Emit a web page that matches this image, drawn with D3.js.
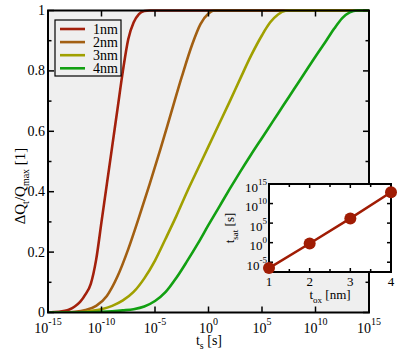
<!DOCTYPE html>
<html><head><meta charset="utf-8">
<script src="https://cdn.jsdelivr.net/npm/d3@7"></script>
<style>body{margin:0;background:#fff}svg{display:block}</style>
</head><body><svg id="c" width="400" height="355"></svg>
<script>
// ---- data ----
const seriesNames = ["1nm", "2nm", "3nm", "4nm"];
const seriesColors = ["#a3200c", "#a25f12", "#a0a000", "#12a012"];
// log10(t_s) and ΔQt/Qmax
const logT1 = [-15, -14, -13, -12.5, -12, -11.5, -11, -10.5, -10, -9.5, -9, -8.5, -8, -7.5, -7, -6.5, -6, -5.5, 15];
const q1    = [0, 0.002, 0.01, 0.02, 0.035, 0.06, 0.095, 0.175, 0.30, 0.425, 0.55, 0.675, 0.80, 0.905, 0.96, 0.988, 0.998, 1, 1];
const logT2 = [-15, -13.5, -12.5, -11.5, -10.5, -9.5, -8.5, -7.5, -6.5, -5.5, -4.5, -3.5, -2.5, -1.5, -0.75, 0, 0.5, 15];
const q2    = [0, 0, 0.002, 0.008, 0.022, 0.055, 0.12, 0.21, 0.315, 0.425, 0.54, 0.66, 0.78, 0.89, 0.955, 0.99, 1, 1];
const logT3 = [-15, -12, -11, -10, -9, -8, -7, -6, -5, -4, -3, -2, -1, 0, 1, 2, 3, 4, 5, 5.75, 6.5, 7.2, 7.6, 15];
const q3    = [0, 0.001, 0.005, 0.011, 0.022, 0.04, 0.068, 0.113, 0.172, 0.245, 0.32, 0.40, 0.475, 0.55, 0.625, 0.70, 0.777, 0.852, 0.918, 0.96, 0.987, 0.999, 1, 1];
const logT4 = [-15, -11, -10, -9, -8, -7, -6, -5, -4, -3, -2, -1, 0, 1, 2, 3, 4, 5, 6, 7, 8, 9, 10, 11, 11.75, 12.5, 13.2, 13.9, 15];
const q4    = [0, 0.001, 0.002, 0.004, 0.007, 0.011, 0.02, 0.038, 0.068, 0.115, 0.17, 0.228, 0.29, 0.35, 0.41, 0.468, 0.524, 0.578, 0.632, 0.686, 0.74, 0.794, 0.848, 0.90, 0.94, 0.975, 0.994, 1, 1];
const xTickExps = [-15, -10, -5, 0, 5, 10, 15];
const yTicks = [0, 0.2, 0.4, 0.6, 0.8, 1];
const yTickLabels = ["0", "0.2", "0.4", "0.6", "0.8", "1"];
const yMinorTicks = [0.1, 0.3, 0.5, 0.7, 0.9];
// inset
const tox = [1, 2, 3, 4];
const tsatExp = [-6.5, -0.2, 6.2, 12.9];
const insetXTicks = [1, 2, 3, 4];
const insetXMinor = [1.5, 2.5, 3.5];
const insetYTickExps = [-5, 0, 5, 10, 15];

const FONT = "Liberation Serif";
const svg = d3.select("#c");
const M = {l: 48, r: 369, t: 10.5, b: 312.5};
const x = d3.scaleLog().domain([1e-15, 1e15]).range([M.l, M.r]);
const y = d3.scaleLinear().domain([0, 1]).range([M.b, M.t]);
function txt(sel) { return sel.append("text").attr("font-family", FONT).attr("fill", "#000"); }

svg.append("rect").attr("x", M.l).attr("y", M.t).attr("width", M.r - M.l).attr("height", M.b - M.t).attr("fill", "#efefef");

const series = [[logT1, q1], [logT2, q2], [logT3, q3], [logT4, q4]];
const line = d3.line().x(d => x(Math.pow(10, d[0]))).y(d => y(d[1])).curve(d3.curveMonotoneX);
svg.append("clipPath").attr("id", "pc").append("rect").attr("x", M.l).attr("y", M.t - 2).attr("width", M.r - M.l).attr("height", M.b - M.t + 2);
series.forEach((s, i) => {
  const pts = s[0].map((v, j) => [v, s[1][j]]);
  svg.append("path").attr("d", line(pts)).attr("fill", "none").attr("stroke", seriesColors[i]).attr("stroke-width", 2.6).attr("stroke-linejoin", "round").attr("clip-path", "url(#pc)");
});

// ticks
const tk = svg.append("g").attr("stroke", "#000");
xTickExps.forEach(e => {
  const px = x(Math.pow(10, e));
  tk.append("line").attr("x1", px).attr("x2", px).attr("y1", M.b).attr("y2", M.b - 6).attr("stroke-width", 1.5);
  tk.append("line").attr("x1", px).attr("x2", px).attr("y1", M.t).attr("y2", M.t + 6).attr("stroke-width", 1.5);
  const t = txt(svg).attr("x", px).attr("y", 333).attr("text-anchor", "middle").attr("font-size", 14).text("10");
  t.append("tspan").attr("dy", -8).attr("font-size", 10).text(String(e));
});
yTicks.forEach((v, i) => {
  const py = y(v);
  tk.append("line").attr("x1", M.l).attr("x2", M.l + 6).attr("y1", py).attr("y2", py).attr("stroke-width", 1.5);
  tk.append("line").attr("x1", M.r).attr("x2", M.r - 6).attr("y1", py).attr("y2", py).attr("stroke-width", 1.5);
  txt(svg).attr("x", 45).attr("y", py + 4.5).attr("text-anchor", "end").attr("font-size", 14).text(yTickLabels[i]);
});
yMinorTicks.forEach(v => {
  const py = y(v);
  tk.append("line").attr("x1", M.l).attr("x2", M.l + 3.5).attr("y1", py).attr("y2", py).attr("stroke-width", 1.5);
  tk.append("line").attr("x1", M.r).attr("x2", M.r - 3.5).attr("y1", py).attr("y2", py).attr("stroke-width", 1.5);
});
svg.append("rect").attr("x", M.l).attr("y", M.t).attr("width", M.r - M.l).attr("height", M.b - M.t).attr("fill", "none").attr("stroke", "#000").attr("stroke-width", 2);

// axis titles
const xt = txt(svg).attr("x", 209).attr("y", 345).attr("text-anchor", "middle").attr("font-size", 14).text("t");
xt.append("tspan").attr("dy", 4).attr("font-size", 10).text("s");
xt.append("tspan").attr("dy", -4).text(" [s]");
const yt = txt(svg).attr("transform", "translate(25,186) rotate(-90)").attr("text-anchor", "middle").attr("font-size", 15).text("ΔQ");
yt.append("tspan").attr("dy", 4).attr("font-size", 10).text("t");
yt.append("tspan").attr("dy", -4).text("/Q");
yt.append("tspan").attr("dy", 4).attr("font-size", 10).text("max");
yt.append("tspan").attr("dy", -4).text("  [1]");

// legend
svg.append("rect").attr("x", 55).attr("y", 20).attr("width", 66).attr("height", 56).attr("fill", "#efefef").attr("stroke", "#000").attr("stroke-width", 1.2);
seriesNames.forEach((n, i) => {
  const ly = 29 + i * 13.1;
  svg.append("line").attr("x1", 60).attr("x2", 85).attr("y1", ly).attr("y2", ly).attr("stroke", seriesColors[i]).attr("stroke-width", 2.6);
  txt(svg).attr("x", 93).attr("y", ly + 4.5).attr("font-size", 14).text(n);
});

// inset
const I = {l: 269, r: 391, t: 184, b: 272};
const ix = d3.scaleLinear().domain([1, 4]).range([I.l, I.r]);
const iy = d3.scaleLog().domain([Math.pow(10, -7.5), 1e15]).range([I.b, I.t]);
svg.append("rect").attr("x", I.l).attr("y", I.t).attr("width", I.r - I.l).attr("height", I.b - I.t).attr("fill", "#fff");
const it = svg.append("g").attr("stroke", "#000");
insetXTicks.forEach(v => {
  const px = ix(v);
  it.append("line").attr("x1", px).attr("x2", px).attr("y1", I.b).attr("y2", I.b - 4).attr("stroke-width", 1.5);
  it.append("line").attr("x1", px).attr("x2", px).attr("y1", I.t).attr("y2", I.t + 4).attr("stroke-width", 1.5);
  txt(svg).attr("x", px).attr("y", 286).attr("text-anchor", "middle").attr("font-size", 13).text(String(v));
});
insetXMinor.forEach(v => {
  const px = ix(v);
  it.append("line").attr("x1", px).attr("x2", px).attr("y1", I.b).attr("y2", I.b - 3).attr("stroke-width", 1.5);
  it.append("line").attr("x1", px).attr("x2", px).attr("y1", I.t).attr("y2", I.t + 3).attr("stroke-width", 1.5);
});
insetYTickExps.forEach(e => {
  const py = iy(Math.pow(10, e));
  it.append("line").attr("x1", I.l).attr("x2", I.l + 4).attr("y1", py).attr("y2", py).attr("stroke-width", 1.5);
  it.append("line").attr("x1", I.r).attr("x2", I.r - 4).attr("y1", py).attr("y2", py).attr("stroke-width", 1.5);
  const t = txt(svg).attr("x", 267).attr("y", py + 7.5).attr("text-anchor", "end").attr("font-size", 13).text("10");
  t.append("tspan").attr("dy", -7).attr("font-size", 9).text(String(e));
});
const ipts = tox.map((v, i) => [v, Math.pow(10, tsatExp[i])]);
svg.append("path").attr("d", d3.line().x(d => ix(d[0])).y(d => iy(d[1]))(ipts)).attr("fill", "none").attr("stroke", "#a01c04").attr("stroke-width", 2.5);
svg.append("rect").attr("x", I.l).attr("y", I.t).attr("width", I.r - I.l).attr("height", I.b - I.t).attr("fill", "none").attr("stroke", "#000").attr("stroke-width", 2);
svg.selectAll("circle.m").data(ipts).enter().append("circle").attr("cx", d => ix(d[0])).attr("cy", d => iy(d[1])).attr("r", 6).attr("fill", "#a01c04");
const itx = txt(svg).attr("x", 330).attr("y", 299).attr("text-anchor", "middle").attr("font-size", 13).text("t");
itx.append("tspan").attr("dy", 4).attr("font-size", 9).text("ox");
itx.append("tspan").attr("dy", -4).text(" [nm]");
const ity = txt(svg).attr("transform", "translate(234,228) rotate(-90)").attr("text-anchor", "middle").attr("font-size", 13).text("t");
ity.append("tspan").attr("dy", 4).attr("font-size", 9).text("sat");
ity.append("tspan").attr("dy", -4).text(" [s]");
</script></body></html>
